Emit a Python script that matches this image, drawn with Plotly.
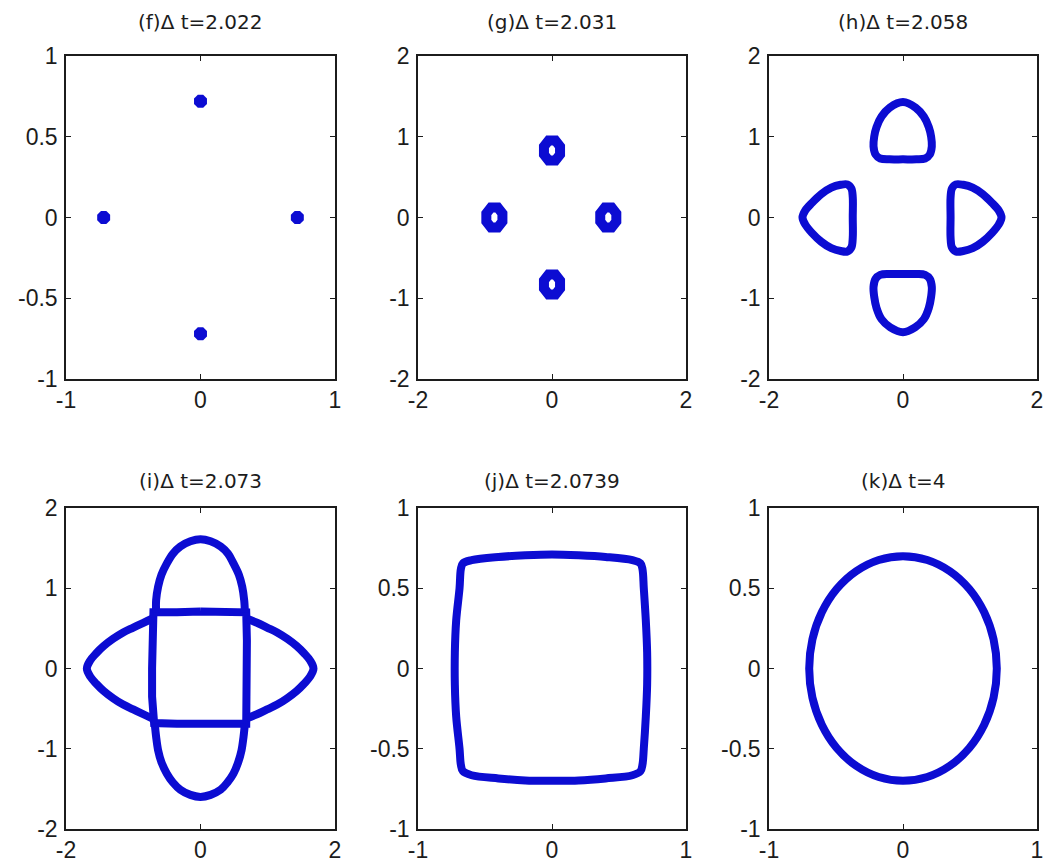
import plotly.graph_objects as go

# ---------------- titles and tick definitions ----------------
TITLES = ["(f)Δ t=2.022", "(g)Δ t=2.031", "(h)Δ t=2.058",
          "(i)Δ t=2.073", "(j)Δ t=2.0739", "(k)Δ t=4"]

TICKS_ONE = [-1, 0, 1]
TICKS_ONE_TEXT = ["-1", "0", "1"]
TICKS_TWO = [-2, 0, 2]
TICKS_TWO_TEXT = ["-2", "0", "2"]
TICKS_HALF = [-1, -0.5, 0, 0.5, 1]
TICKS_HALF_TEXT = ["-1", "-0.5", "0", "0.5", "1"]
TICKS_UNIT = [-2, -1, 0, 1, 2]
TICKS_UNIT_TEXT = ["-2", "-1", "0", "1", "2"]

# ---------------- (f): four point-like nuclei ----------------
F_X = [0.0, -0.72, 0.72, 0.0]
F_Y = [0.72, 0.0, 0.0, -0.72]

# ---------------- (g): four small rings ----------------
G_TOP_X = [0.0, 0.05, 0.12, 0.12, 0.05, -0.05, -0.12, -0.12, -0.05, 0.0]
G_TOP_Y = [0.955, 0.955, 0.88, 0.78, 0.705, 0.705, 0.78, 0.88, 0.955, 0.955]
G_BOT_X = [0.0, 0.05, 0.12, 0.12, 0.05, -0.05, -0.12, -0.12, -0.05, 0.0]
G_BOT_Y = [-0.705, -0.705, -0.78, -0.88, -0.955, -0.955, -0.88, -0.78, -0.705, -0.705]
G_LEFT_X = [-0.86, -0.81, -0.74, -0.74, -0.81, -0.91, -0.98, -0.98, -0.91, -0.86]
G_LEFT_Y = [0.125, 0.125, 0.05, -0.05, -0.125, -0.125, -0.05, 0.05, 0.125, 0.125]
G_RIGHT_X = [0.84, 0.89, 0.96, 0.96, 0.89, 0.79, 0.72, 0.72, 0.79, 0.84]
G_RIGHT_Y = [0.125, 0.125, 0.05, -0.05, -0.125, -0.125, -0.05, 0.05, 0.125, 0.125]

# ---------------- (h): four rounded triangles ----------------
H_TOP_X = [0.0, 0.2, 0.33, 0.40, 0.43, 0.42, 0.385, 0.31, 0.19, 0.0,
           -0.2, -0.32, -0.395, -0.43, -0.44, -0.41, -0.34, -0.2, 0.0]
H_TOP_Y = [0.72, 0.72, 0.73, 0.78, 0.88, 1.0, 1.12, 1.25, 1.36, 1.43,
           1.36, 1.25, 1.12, 1.0, 0.88, 0.78, 0.73, 0.72, 0.72]
H_BOT_X = [0.0, 0.2, 0.33, 0.40, 0.43, 0.42, 0.385, 0.31, 0.18, 0.0,
           -0.19, -0.32, -0.395, -0.43, -0.44, -0.41, -0.34, -0.2, 0.0]
H_BOT_Y = [-0.70, -0.70, -0.71, -0.76, -0.86, -0.98, -1.12, -1.26, -1.36, -1.42,
           -1.36, -1.26, -1.12, -0.98, -0.86, -0.76, -0.71, -0.70, -0.70]
H_LEFT_X = [-0.75, -0.75, -0.77, -0.83, -0.93, -1.07, -1.22, -1.36, -1.46, -1.50,
            -1.46, -1.36, -1.22, -1.07, -0.93, -0.83, -0.77, -0.75, -0.75]
H_LEFT_Y = [0.0, 0.25, 0.36, 0.41, 0.405, 0.37, 0.29, 0.18, 0.085, 0.0,
            -0.085, -0.19, -0.30, -0.38, -0.415, -0.42, -0.37, -0.25, 0.0]
H_RIGHT_X = [0.71, 0.71, 0.73, 0.79, 0.90, 1.04, 1.19, 1.33, 1.43, 1.47,
             1.43, 1.33, 1.19, 1.04, 0.90, 0.79, 0.73, 0.71, 0.71]
H_RIGHT_Y = [0.0, 0.25, 0.36, 0.41, 0.405, 0.37, 0.29, 0.18, 0.085, 0.0,
             -0.085, -0.19, -0.30, -0.38, -0.415, -0.42, -0.37, -0.25, 0.0]

# ---------------- (i): central square with four lobes ----------------
I_SQ_X = [0.0, 0.35, 0.68, 0.69, 0.69, 0.69, 0.68, 0.35, 0.0, -0.35,
          -0.69, -0.72, -0.72, -0.72, -0.70, -0.35, 0.0]
I_SQ_Y = [0.71, 0.70, 0.70, 0.35, 0.0, -0.35, -0.69, -0.69, -0.70, -0.69,
          -0.68, -0.35, 0.0, 0.35, 0.70, 0.70, 0.71]
I_TOP_X = [-0.66, -0.66, -0.63, -0.58, -0.50, -0.41, -0.30, -0.15, 0.0,
           0.15, 0.30, 0.41, 0.49, 0.57, 0.62, 0.65, 0.66]
I_TOP_Y = [0.70, 0.85, 1.02, 1.17, 1.31, 1.43, 1.52, 1.585, 1.61,
           1.585, 1.52, 1.43, 1.31, 1.17, 1.02, 0.85, 0.70]
I_BOT_X = [-0.68, -0.66, -0.63, -0.58, -0.50, -0.41, -0.30, -0.15, 0.0,
           0.15, 0.30, 0.40, 0.49, 0.56, 0.61, 0.64, 0.66]
I_BOT_Y = [-0.69, -0.85, -1.02, -1.17, -1.31, -1.42, -1.51, -1.575, -1.60,
           -1.575, -1.51, -1.42, -1.31, -1.17, -1.02, -0.85, -0.69]
I_LEFT_X = [-0.72, -0.85, -1.0, -1.15, -1.3, -1.44, -1.55, -1.64, -1.69,
            -1.64, -1.55, -1.44, -1.3, -1.15, -1.0, -0.85, -0.72]
I_LEFT_Y = [0.62, 0.57, 0.51, 0.45, 0.37, 0.28, 0.19, 0.10, 0.0,
            -0.10, -0.19, -0.28, -0.37, -0.45, -0.51, -0.57, -0.62]
I_RIGHT_X = [0.69, 0.84, 0.99, 1.14, 1.29, 1.43, 1.54, 1.63, 1.68,
             1.63, 1.54, 1.43, 1.29, 1.14, 0.99, 0.84, 0.69]
I_RIGHT_Y = [0.62, 0.57, 0.51, 0.45, 0.37, 0.28, 0.19, 0.10, 0.0,
             -0.10, -0.19, -0.28, -0.37, -0.45, -0.51, -0.57, -0.62]

# ---------------- (j): rounded square ----------------
J_X = [0.0, 0.2, 0.4, 0.6, 0.66, 0.675, 0.685, 0.70, 0.71, 0.71, 0.70, 0.685,
       0.675, 0.66, 0.6, 0.4, 0.2, 0.0, -0.2, -0.4, -0.6, -0.665,
       -0.68, -0.69, -0.715, -0.725, -0.725, -0.715, -0.69, -0.68, -0.665,
       -0.6, -0.4, -0.2, 0.0]
J_Y = [0.71, 0.705, 0.695, 0.675, 0.655, 0.62, 0.5, 0.3, 0.1, -0.1, -0.3, -0.5,
       -0.6, -0.64, -0.665, -0.685, -0.698, -0.70, -0.698, -0.685, -0.665,
       -0.64, -0.6, -0.5, -0.3, -0.1, 0.1, 0.3, 0.5, 0.62, 0.655,
       0.675, 0.695, 0.705, 0.71]

# ---------------- (k): final round front ----------------
K_X = [0.700, 0.676, 0.606, 0.495, 0.350, 0.181, 0.000, -0.181, -0.350, -0.495,
       -0.606, -0.676, -0.700, -0.676, -0.606, -0.495, -0.350, -0.181, 0.000,
       0.181, 0.350, 0.495, 0.606, 0.676, 0.700]
K_Y = [0.000, 0.181, 0.350, 0.495, 0.606, 0.676, 0.700, 0.676, 0.606, 0.495,
       0.350, 0.181, 0.000, -0.181, -0.350, -0.495, -0.606, -0.676, -0.700,
       -0.676, -0.606, -0.495, -0.350, -0.181, 0.000]

# ---------------- figure geometry (pixels) ----------------
W, H = 1047, 865
COLS_PX = [(66, 335), (418, 686), (769, 1037)]
ROWS_PX = [(56, 379), (508, 829)]
TITLE_Y_PX = [22, 481]

BLUE = "#0c0cd2"
LINE_W = 8
INK = "#1c1c1c"

fig = go.Figure()


def add_curve(idx, xs, ys, width=LINE_W, spline=True):
    fig.add_trace(go.Scatter(
        x=xs, y=ys, mode="lines",
        line=dict(color=BLUE, width=width,
                  shape="spline" if spline else "linear", smoothing=1.0),
        xaxis=f"x{idx}", yaxis=f"y{idx}",
        showlegend=False, hoverinfo="skip"))


# (f)
fig.add_trace(go.Scatter(
    x=F_X, y=F_Y, mode="markers",
    marker=dict(symbol="octagon", size=14, color=BLUE, line=dict(width=0)),
    xaxis="x1", yaxis="y1", showlegend=False, hoverinfo="skip"))
# (g)
for xs, ys in [(G_TOP_X, G_TOP_Y), (G_BOT_X, G_BOT_Y),
               (G_LEFT_X, G_LEFT_Y), (G_RIGHT_X, G_RIGHT_Y)]:
    add_curve(2, xs, ys, width=10, spline=False)
# (h)
for xs, ys in [(H_TOP_X, H_TOP_Y), (H_BOT_X, H_BOT_Y),
               (H_LEFT_X, H_LEFT_Y), (H_RIGHT_X, H_RIGHT_Y)]:
    add_curve(3, xs, ys)
# (i)
add_curve(4, I_SQ_X, I_SQ_Y, spline=False)
for xs, ys in [(I_TOP_X, I_TOP_Y), (I_BOT_X, I_BOT_Y),
               (I_LEFT_X, I_LEFT_Y), (I_RIGHT_X, I_RIGHT_Y)]:
    add_curve(4, xs, ys)
# (j)
add_curve(5, J_X, J_Y)
# (k)
add_curve(6, K_X, K_Y)

# axis limits / ticks per panel: (xrange, xticks, xtext, yrange, yticks, ytext)
PANEL_AXES = [
    ([-1, 1], TICKS_ONE, TICKS_ONE_TEXT, [-1, 1], TICKS_HALF, TICKS_HALF_TEXT),
    ([-2, 2], TICKS_TWO, TICKS_TWO_TEXT, [-2, 2], TICKS_UNIT, TICKS_UNIT_TEXT),
    ([-2, 2], TICKS_TWO, TICKS_TWO_TEXT, [-2, 2], TICKS_UNIT, TICKS_UNIT_TEXT),
    ([-2, 2], TICKS_TWO, TICKS_TWO_TEXT, [-2, 2], TICKS_UNIT, TICKS_UNIT_TEXT),
    ([-1, 1], TICKS_ONE, TICKS_ONE_TEXT, [-1, 1], TICKS_HALF, TICKS_HALF_TEXT),
    ([-1, 1], TICKS_ONE, TICKS_ONE_TEXT, [-1, 1], TICKS_HALF, TICKS_HALF_TEXT),
]

tick_font = dict(family="Liberation Sans, Arial, sans-serif", size=23, color=INK)
common = dict(showline=True, linecolor=INK, linewidth=1.5, mirror="ticks",
              ticks="inside", ticklen=5, tickwidth=1.3, tickcolor=INK,
              showgrid=False, zeroline=False, fixedrange=True,
              automargin=False, tickfont=tick_font, tickmode="array")

layout_axes = {}
annotations = []
for i, (xr, xt, xtt, yr, yt, ytt) in enumerate(PANEL_AXES):
    idx = i + 1
    row, col = divmod(i, 3)
    x0, x1 = COLS_PX[col]
    y0, y1 = ROWS_PX[row]
    xdom = [x0 / W, x1 / W]
    ydom = [1 - y1 / H, 1 - y0 / H]
    xs_key = "xaxis" if idx == 1 else f"xaxis{idx}"
    ys_key = "yaxis" if idx == 1 else f"yaxis{idx}"
    layout_axes[xs_key] = dict(common, domain=xdom, range=xr, tickvals=xt,
                               ticktext=xtt, anchor=f"y{idx}",
                               ticklabelstandoff=0)
    layout_axes[ys_key] = dict(common, domain=ydom, range=yr, tickvals=yt,
                               ticktext=ytt, anchor=f"x{idx}",
                               ticklabelstandoff=2)
    annotations.append(dict(
        text=TITLES[i], xref="paper", yref="paper",
        x=(x0 + x1) / 2 / W, y=1 - TITLE_Y_PX[row] / H,
        xanchor="center", yanchor="middle", showarrow=False,
        font=dict(family="DejaVu Sans, sans-serif", size=20, color=INK)))

fig.update_layout(
    width=W, height=H,
    margin=dict(l=0, r=0, t=0, b=0),
    paper_bgcolor="white", plot_bgcolor="white",
    annotations=annotations,
    **layout_axes)

fig.write_html("out.html",
               post_script="document.body.style.margin='0';")
